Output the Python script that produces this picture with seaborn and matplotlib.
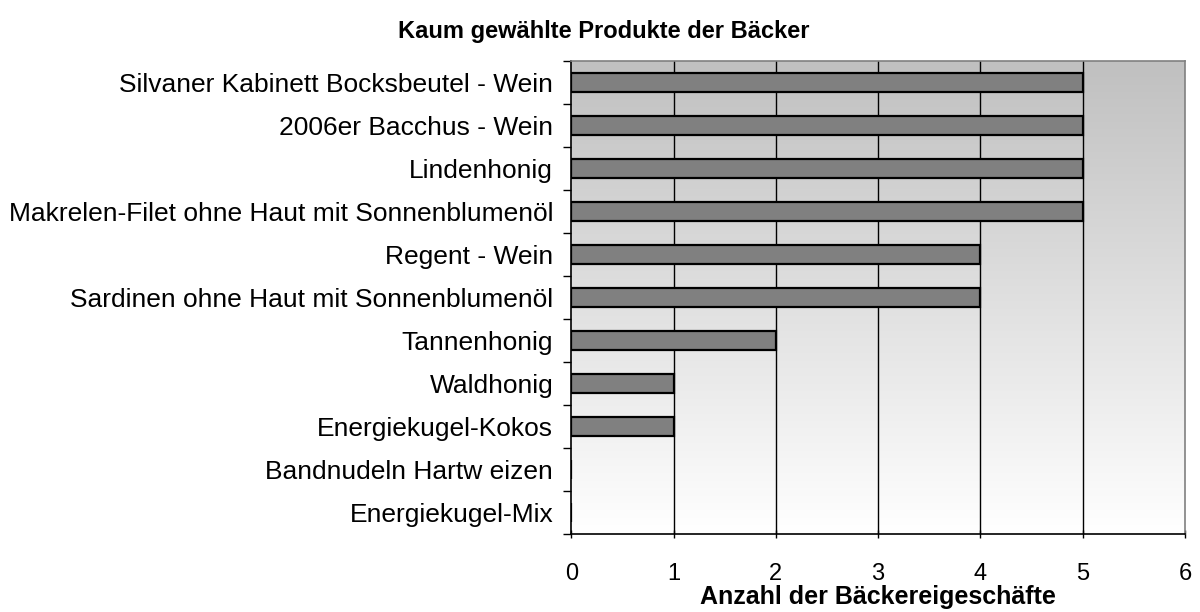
import matplotlib
matplotlib.use("Agg")
import matplotlib.pyplot as plt
import numpy as np
import pandas as pd
import seaborn as sns

produkte = [
    "Silvaner Kabinett Bocksbeutel - Wein",
    "2006er Bacchus - Wein",
    "Lindenhonig",
    "Makrelen-Filet ohne Haut mit Sonnenblumenöl",
    "Regent - Wein",
    "Sardinen ohne Haut mit Sonnenblumenöl",
    "Tannenhonig",
    "Waldhonig",
    "Energiekugel-Kokos",
    "Bandnudeln Hartw eizen",
    "Energiekugel-Mix",
]
anzahl = [5, 5, 5, 5, 4, 4, 2, 1, 1, 0, 0]
x_ticks = [0, 1, 2, 3, 4, 5, 6]

df = pd.DataFrame({"Produkt": produkte, "Anzahl": anzahl})

sns.set_style("white")
plt.rcParams["font.family"] = ["Liberation Sans", "DejaVu Sans"]
plt.rcParams["text.color"] = "black"
plt.rcParams["xtick.color"] = "black"
plt.rcParams["ytick.color"] = "black"
plt.rcParams["axes.labelcolor"] = "black"

fig = plt.figure(figsize=(12, 6.12), dpi=100)
ax = fig.add_axes([0.476, 0.128, 0.5115, 0.772])

# gradient background: grey at top, white at bottom
grad = np.linspace(0, 1, 256).reshape(-1, 1)
cmap = matplotlib.colors.LinearSegmentedColormap.from_list("g", ["#ffffff", "#c0c0c0"])
ax.imshow(grad, cmap=cmap, aspect="auto", extent=[0, 6, 10.5, -0.5], origin="lower", zorder=0)

sns.barplot(data=df, x="Anzahl", y="Produkt", orient="h", color="#808080",
            edgecolor="black", linewidth=1.6, width=0.45, saturation=1, ax=ax, zorder=3)

ax.set_xlim(0, 6)
ax.set_ylim(10.5, -0.5)
ax.set_xticks(x_ticks)
ax.set_xticklabels([str(t) for t in x_ticks], fontsize=17)
for t in x_ticks[1:-1]:
    ax.axvline(t, color="black", linewidth=1, zorder=1)

ax.set_yticks(range(len(produkte)))
ax.set_yticklabels(produkte, fontsize=19)
ax.set_yticks(np.arange(-0.5, len(produkte), 1), minor=True)
ax.tick_params(axis="y", which="major", length=0, pad=13)
ax.tick_params(axis="y", which="minor", length=6, width=1, color="black", direction="out", left=True)
ax.tick_params(axis="x", which="major", length=6, width=1, color="black", direction="inout", pad=18, bottom=True)

ax.set_ylabel("")
ax.set_xlabel("Anzahl der Bäckereigeschäfte", fontsize=18, fontweight="bold", labelpad=0)

for side in ["left", "bottom"]:
    ax.spines[side].set_color("black")
    ax.spines[side].set_linewidth(1.2)
for side in ["top", "right"]:
    ax.spines[side].set_color("#808080")
    ax.spines[side].set_linewidth(1.2)
for sp in ax.spines.values():
    sp.set_zorder(5)

fig.suptitle("Kaum gewählte Produkte der Bäcker", x=0.503, y=0.968, fontsize=17, fontweight="bold")

fig.savefig("out.png", dpi=100)
